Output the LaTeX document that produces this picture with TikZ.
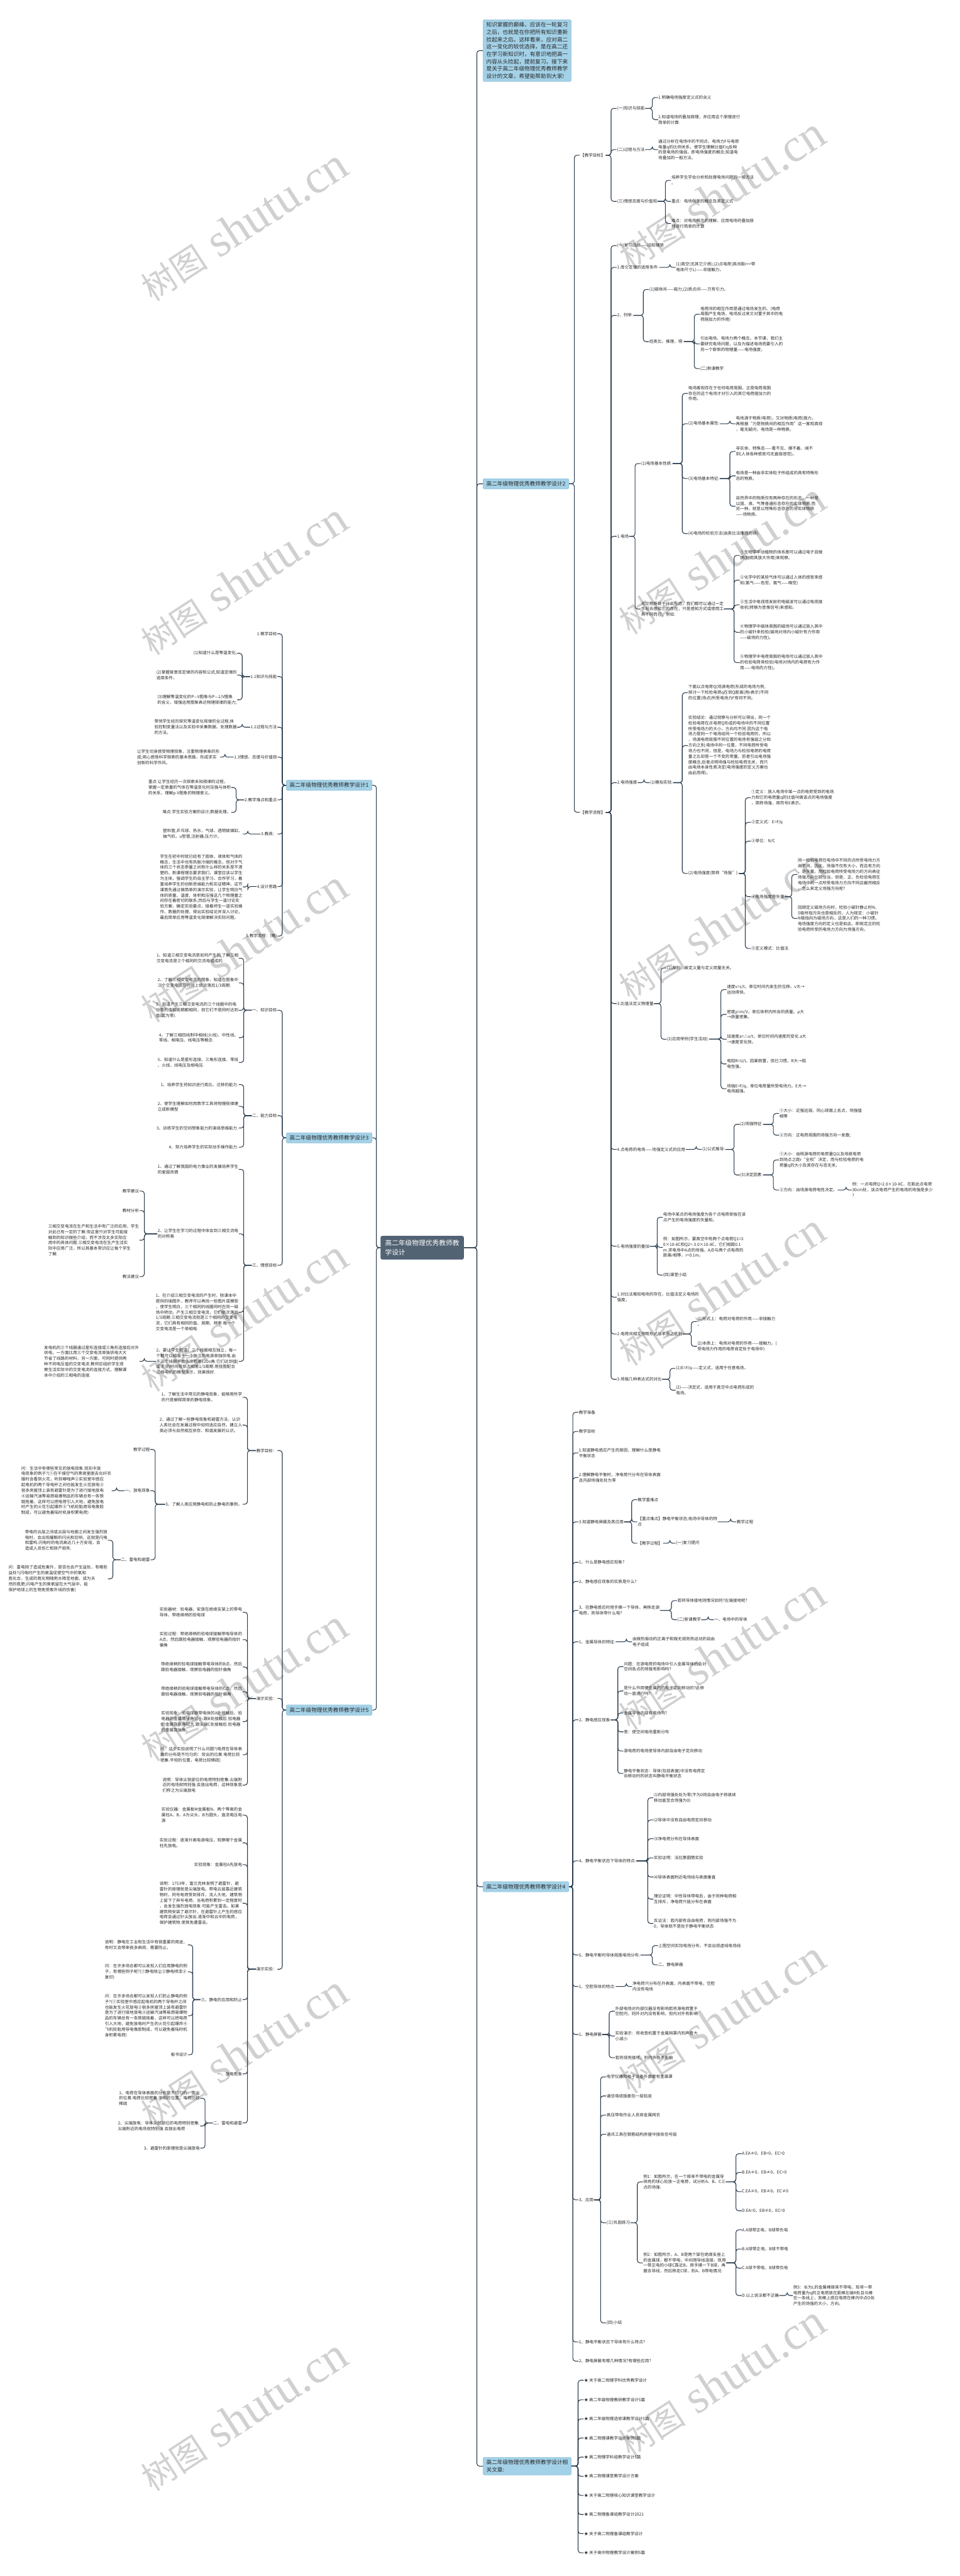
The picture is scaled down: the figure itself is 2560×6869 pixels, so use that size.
\documentclass[tikz,border=0pt]{standalone}
\usepackage{fontspec}
\newfontfamily\cjk{Noto Sans CJK SC}
\newfontfamily\wmlat{Liberation Serif}
\usetikzlibrary{calc}
\definecolor{linec}{RGB}{44,62,80}
\definecolor{txtc}{RGB}{40,40,40}
\definecolor{bfill}{RGB}{163,209,231}
\definecolor{bdraw}{RGB}{140,190,215}
\definecolor{rootc}{RGB}{82,99,116}
\definecolor{wmc}{RGB}{208,208,208}
\tikzset{
 txR/.style={font=\cjk\fontsize{11}{14.8}\selectfont, text=txtc, inner sep=1pt, align=left, anchor=west},
 txL/.style={font=\cjk\fontsize{11}{14.8}\selectfont, text=txtc, inner sep=1pt, align=left, anchor=east},
 bnode/.style={fill=bfill, draw=bdraw, line width=0.8pt, rounded corners=4pt, font=\cjk\fontsize{14.5}{19.6}\selectfont, text=txtc, inner xsep=9pt, inner ysep=7pt, align=left},
 rootn/.style={fill=rootc, draw=rootc, rounded corners=5pt, font=\cjk\fontsize{18}{24}\selectfont, text=white, inner xsep=12pt, inner ysep=11pt, align=left, anchor=west},
 conn/.style={draw=linec, line width=1.8pt, rounded corners=7pt},
 wm/.style={text=wmc, font=\wmlat\fontsize{125}{125}\selectfont, rotate=33, inner sep=0pt}
}
\newcommand\cR[3][15]{\draw[conn] (#2.east) -| ($(#3.west)+(-#1,0)$) -- (#3.west);}
\newcommand\cL[3][13]{\draw[conn] (#2.west) -| ($(#3.east)+(#1,0)$) -- (#3.east);}
\newcommand\wmark[2]{\node[wm] at (#1,#2) {{\cjk\fontsize{90}{90}\selectfont 树图} shutu.cn};}
\begin{document}
\begin{tikzpicture}[x=1pt,y=-1pt]
\useasboundingbox (0,0) rectangle (2560,6869);
\fill[white] (0,0) rectangle (2560,6869);
% watermarks
\foreach \yy in {517,1490,2465,3440,4410,5380,6350} {\wmark{1925}{\yy}}
\foreach \yy in {600,1545,2524,3509,4495,5470,6440} {\wmark{650}{\yy}}
% root
\node[rootn] (R) at (1015,3327) {高二年级物理优秀教师教\\学设计};
% ===== right main nodes
\node[bnode,anchor=west] (IN) at (1288,135) {知识掌握的巅峰，应该在一轮复习\\之后，也就是在你把所有知识重新\\捡起来之后。这样看来，应对高二\\这一变化的较优选择，是在高二还\\在学习新知识时，有意识地把高一\\内容从头捡起，提前复习。接下来\\是关于高二年级物理优秀教师教学\\设计的文章，希望能帮助到大家!};
\node[bnode,anchor=west] (B2) at (1288,1290) {高二年级物理优秀教师教学设计2};
\node[bnode,anchor=west] (B4) at (1288,5031) {高二年级物理优秀教师教学设计4};
\node[bnode,anchor=west] (B6) at (1288,6576) {高二年级物理优秀教师教学设计相\\关文章:};
\node[bnode,anchor=east] (B1) at (993,2094) {高二年级物理优秀教师教学设计1};
\node[bnode,anchor=east] (B3) at (993,3034) {高二年级物理优秀教师教学设计3};
\node[bnode,anchor=east] (B5) at (993,4560) {高二年级物理优秀教师教学设计5};
\cR[16]{R}{IN}\cR[16]{R}{B2}\cR[16]{R}{B4}\cR[16]{R}{B6}
\cL[11]{R}{B1}\cL[11]{R}{B3}\cL[11]{R}{B5}
% ===== Branch 2
\node[txR] (a1) at (1547,414) {【教学目标】};
\node[txR] (a2) at (1547,2166) {【教学流程】};
\cR{B2}{a1}\cR{B2}{a2}
\node[txR] (b1) at (1645,289) {(一)知识与技能};
\node[txR] (b2) at (1645,399) {(二)过程与方法};
\node[txR] (b3) at (1645,537) {(三)情感态度与价值观};
\cR{a1}{b1}\cR{a1}{b2}\cR{a1}{b3}
\node[txR] (c1) at (1755,260) {1.明确电场强度定义式的含义};
\node[txR] (c2) at (1755,319) {2.知道电场的叠加原理，并应用这个原理进行\\简单的计算.};
\cR{b1}{c1}\cR{b1}{c2}
\node[txR] (c3) at (1755,399) {通过分析在电场中的不同点，电场力F与电荷\\电量q的比例关系，使学生理解比值F/q反映\\的是电场的强弱，即电场强度的概念;知道电\\场叠加的一般方法。};
\cR{b2}{c3}
\node[txR] (c4) at (1790,481) {培养学生学会分析和处理电场问题的一般方法\\。};
\node[txR] (c5) at (1790,537) {重点：电场强度的概念及其定义式};
\node[txR] (c6) at (1790,596) {难点：对电场概念的理解、应用电场的叠加原\\理进行简单的计算};
\cR{b3}{c4}\cR{b3}{c5}\cR{b3}{c6}
\node[txR] (d1) at (1645,655) {(一)复习回顾——旧知铺垫};
\node[txR] (d2) at (1645,713) {1.库仑定律的适用条件:};
\node[txR] (d3) at (1645,841) {2、列举:};
\node[txR] (d4) at (1645,1430) {1.电场};
\node[txR] (d5) at (1645,2087) {2.电场强度};
\node[txR] (d6) at (1645,2676) {3.比值法定义物理量};
\node[txR] (d7) at (1645,3065) {4.点电荷的电场——场强定义式的应用};
\node[txR] (d8) at (1645,3323) {5.电场强度的叠加};
\node[txR] (d9) at (1645,3459) {1.对比法推知电场的存在，比值法定义电场的\\强度。};
\node[txR] (d10) at (1645,3557) {2.电荷间相互作用形式与本质之区别};
\node[txR] (d11) at (1645,3678) {3.场强几种表达式的对比};
\foreach \c in {d1,d2,d3,d4,d5,d6,d7,d8,d9,d10,d11} {\cR{a2}{\c}}
\node[txR] (e1) at (1802,713) {(1)真空(无其它介质);(2)点电荷(其间距r>>带\\电体尺寸L)——非接触力。};
\cR{d2}{e1}
\node[txR] (e2) at (1731,772) {(1)磁体间——磁力;(2)质点间——万有引力。};
\node[txR] (e3) at (1731,911) {经类比、推理，得:};
\cR{d3}{e2}\cR{d3}{e3}
\node[txR] (e4) at (1867,838) {电荷间的相互作用是通过电场发生的。(电荷\\周围产生电场，电场反过来又对置于其中的电\\荷施加力的作用)};
\node[txR] (e5) at (1867,917) {引出电场、电场力两个概念。本节课，我们主\\要研究电场问题，以及为描述电场而要引入的\\另一个崭新的物理量——电场强度。};
\node[txR] (e6) at (1867,983) {(二)新课教学};
\cR{e3}{e4}\cR{e3}{e5}\cR{e3}{e6}
\node[txR] (f1) at (1709,1236) {(1)电场基本性质:};
\node[txR] (f2) at (1709,1624) {无论物质处于什么形态，我们都可以通过一定\\手段去感知它的存在，只是感知方式或使用工\\具不同而已，例如:};
\cR{d4}{f1}\cR{d4}{f2}
\node[txR] (g1) at (1835,1049) {电场客观存在于任何电荷周围，正是电荷周围\\存在的这个电场才对引入的其它电荷施加力的\\作用。};
\node[txR] (g2) at (1835,1130) {(2)电场基本属性:};
\node[txR] (g3) at (1835,1276) {(3)电场基本特征:};
\node[txR] (g4) at (1835,1423) {(4)电场的检验方法(由类比法推理而得):};
\cR{f1}{g1}\cR{f1}{g2}\cR{f1}{g3}\cR{f1}{g4}
\node[txR] (h1) at (1962,1130) {电场源于物质(电荷)，又对物质(电荷)施力。\\再根据“力是物质间的相互作用”这一客观真观\\，毫无疑问，电场是一种物质。};
\cR{g2}{h1}
\node[txR] (h2) at (1962,1204) {非实体、特殊态——看不见、摸不着、闻不\\到(人体各种感官均无直接感觉)。};
\node[txR] (h3) at (1962,1269) {电场是一种由非实体粒子所组成的具有特殊形\\态的物质。};
\node[txR] (h4) at (1962,1350) {自然界中的物质仅有两种存在的形态，一种是\\以固、液、气等普通形态存在的实体物质;而\\另一种，就是以特殊形态存在的非实体物质\\——场物质。};
\cR{g3}{h2}\cR{g3}{h3}\cR{g3}{h4}
\node[txR] (i1) at (1973,1481) {①生物学中动植物的体系胞可以通过电子显微\\镜(利用其放大作用)来观察。};
\node[txR] (i2) at (1973,1547) {②化学中的某些气体可以通过人体的感官来感\\知(氯气——色觉，氨气——嗅觉)};
\node[txR] (i3) at (1973,1613) {③生活中电视塔发射的电磁波可以通过电视接\\收机(转换为音像信号)来感知。};
\node[txR] (i4) at (1973,1686) {④物理学中磁体周围的磁场可以通过放入其中\\的小磁针来检验(磁场对场内小磁针有力作用\\——磁场的力性)。};
\node[txR] (i5) at (1973,1767) {⑤物理学中电荷周围的电场可以通过放入其中\\的检验电荷来检验(电场对场内的电荷有力作\\用——电场的力性)。};
\foreach \c in {i1,i2,i3,i4,i5} {\cR{f2}{\c}}
\node[txR] (j1) at (1733,2087) {(1)模拟实验:};
\cR{d5}{j1}
\node[txR] (k1) at (1835,1847) {下面以点电荷Q(场源电荷)形成的电场为例,\\探讨一下检验电荷q在到Q距离(用r表示)不同\\的位置(场点)所受电场力F有何不同。};
\node[txR] (k2) at (1835,1988) {实验结论：通过观察与分析可以得出，同一个\\检验电荷在点电荷Q形成的电场中的不同位置\\所受电场力的大小、方向均不同.因为这个电\\场力是同一个电场给同一个检验电荷的，所以\\，场源电荷周围不同位置的电场有强弱之分和\\方向之别;电场中同一位置，不同电荷所受电\\场力也不同，但是，电场力与检验电荷的电荷\\量之比却是一个不变的常量。前者引出电场强\\度概念;后者点明场强与检验电荷无关，而只\\由电场本身性质决定(电场强度的定义方案也\\由此而得)。};
\node[txR] (k3) at (1835,2329) {(2)电场强度(简称“场强”):};
\cR{j1}{k1}\cR{j1}{k2}\cR{j1}{k3}
\node[txR] (l1) at (2003,2127) {①定义：放入电场中某一点的电荷受到的电场\\力和它的电荷量q的比值叫做该点的电场强度\\，简称场强，用符号E表示。};
\node[txR] (l2) at (2003,2193) {②定义式：E=F/q};
\node[txR] (l3) at (2003,2243) {③单位：N/C};
\node[txR] (l4) at (2003,2391) {④电场强度是矢量};
\node[txR] (l5) at (2003,2529) {⑤定义模式：比值法};
\foreach \c in {l1,l2,l3,l4,l5} {\cR{k3}{\c}}
\node[txR] (m1) at (2127,2332) {同一检验电荷在电场中不同的点所受电场力方\\向不同，因此，场强不仅有大小，而且有方向\\，是矢量。用检验电荷所受电场力的方向表征\\场强方向比较恰当，但是，正、负检验电荷在\\电场中同一点所受电场力方向不同且截然相反\\，怎么来定义场强方向呢?};
\node[txR] (m2) at (2127,2449) {回顾定义磁场方向时，检验小磁针静止时N、\\S极所指方向也是相反的，人为规定：小磁针\\N极指向为磁场方向，这是人们的一种习惯。\\电场强度方向的定义也是如此。即规定正的检\\验电荷所受的电场力方向为场强方向。};
\cR{l4}{m1}\cR{l4}{m2}
\node[txR] (n1) at (1778,2581) {(1)原则：被定义量与定义用量无关。};
\node[txR] (n2) at (1778,2771) {(2)应用举例(学生活动):};
\cR{d6}{n1}\cR{d6}{n2}
\node[txR] (o1) at (1938,2639) {速度v=s/t。单位时间内发生的位移。v大→\\运动得快。};
\node[txR] (o2) at (1938,2705) {密度ρ=m/V。单位体积内所含的质量。ρ大\\→质量密集。};
\node[txR] (o3) at (1938,2771) {加速度a=△v/t。单位时间内速度的变化.a大\\→速度变化快。};
\node[txR] (o4) at (1938,2837) {电阻R=U/I。因果倒置，但已习惯。R大→阻\\电性强。};
\node[txR] (o5) at (1938,2903) {场强E=F/q。单位电荷量所受电场力。E大→\\电场越强。};
\foreach \c in {o1,o2,o3,o4,o5} {\cR{n2}{\c}}
\node[txR] (p1) at (1872,3065) {(1)公式推导:};
\cR{d7}{p1}
\node[txR] (q1) at (1973,2998) {(2)场强特征:};
\node[txR] (q2) at (1973,3133) {(3)决定因素:};
\cR{p1}{q1}\cR{p1}{q2}
\node[txR] (r1) at (2078,2969) {①大小：近强远弱，同心球面上名点，场强值\\相等};
\node[txR] (r2) at (2078,3027) {②方向：正电荷周围的场强方向一发散;};
\cR{q1}{r1}\cR{q1}{r2}
\node[txR] (r3) at (2078,3093) {①大小：由杨源电荷的电荷量Q以及场原电荷\\到场点之距r“全权”决定，而与检验电荷的电\\荷量q的大小及其存在与否无关，};
\node[txR] (r4) at (2078,3173) {②方向：由场源电荷电性决定。};
\cR{q2}{r3}\cR{q2}{r4}
\node[txR] (s1) at (2272,3173) {例：一点电荷Q=2.0×10-8C，在距此点电荷\\30cm处，该点电荷产生的电场的场强是多少\\?};
\cR{r4}{s1}
\node[txR] (t1) at (1768,3246) {电场中某点的电场强度为各个点电荷单独在该\\点产生的电场强度的矢量和。};
\node[txR] (t2) at (1768,3326) {例：如图所示，要真空中有两个点电荷Q1=3.\\0×10-8C和Q2=-3.0×10-8C，它们相距0.1\\m.求电场中A点的场强。A点与两个点电荷的\\距离r相等，r=0.1m。};
\node[txR] (t3) at (1768,3400) {(四)课堂小结};
\cR{d8}{t1}\cR{d8}{t2}\cR{d8}{t3}
\node[txR] (u1) at (1859,3524) {(1)形式上：电荷对电荷的作用——非接触力\\。};
\node[txR] (u2) at (1859,3590) {(2)本质上：电场对电荷的作用——接触力。(\\受电场力作用的电荷肯定处于电场中)};
\cR{d10}{u1}\cR{d10}{u2}
\node[txR] (v1) at (1802,3649) {(1)E=F/q——定义式，适用于任意电场。};
\node[txR] (v2) at (1802,3707) {(2)——决定式，适用于真空中点电荷形成的\\电场。};
\cR{d11}{v1}\cR{d11}{v2}
% ===== Branch 4
\node[txR] (w1) at (1543,3766) {教学准备};
\node[txR] (w2) at (1543,3817) {教学目标};
\node[txR] (w3) at (1543,3874) {1.知道静电感应产生的原因，理解什么是静电\\平衡状态};
\node[txR] (w4) at (1543,3940) {2.理解静电平衡时，净电荷只分布在导体表面\\且内部场强处处为零};
\node[txR] (w5) at (1543,4058) {3.知道静电屏蔽及其应用};
\node[txR] (w6) at (1543,4166) {1、什么是静电感应现象?};
\node[txR] (w7) at (1543,4217) {2、静电感应现象的实质是什么?};
\node[txR] (w8) at (1543,4294) {3、在静电感应时用手摸一下导体，再移走源\\电荷，则导体带什么电?};
\node[txR] (w9) at (1543,4378) {1、金属导体的特征:};
\node[txR] (w10) at (1543,4586) {2、静电感应现象};
\node[txR] (w11) at (1543,4962) {4、静电平衡状态下导体的特点:};
\node[txR] (w12) at (1543,5213) {5、静电平衡时导体周围电场分布:};
\node[txR] (w13) at (1543,5297) {1、空腔导体的特点:};
\node[txR] (w14) at (1543,5425) {1、静电屏蔽};
\node[txR] (w15) at (1543,5866) {3、应用};
\node[txR] (w16) at (1543,6245) {1、静电平衡状态下导体有什么特点?};
\node[txR] (w17) at (1543,6296) {2、静电屏蔽有哪几种情况?有哪些应用?};
\foreach \c in {w1,w2,w3,w4,w5,w6,w7,w8,w9,w10,w11,w12,w13,w14,w15,w16,w17} {\cR{B4}{\c}}
\node[txR] (x1) at (1700,3999) {教学重难点};
\node[txR] (x2) at (1700,4058) {【重点难点】静电平衡状态;电场中导体的特\\点};
\node[txR] (x3) at (1700,4115) {【教学过程】};
\cR{w5}{x1}\cR{w5}{x2}\cR{w5}{x3}
\node[txR] (y1) at (1964,4058) {教学过程};
\cR{x2}{y1}
\node[txR] (y2) at (1802,4115) {(一)复习提问};
\cR{x3}{y2}
\node[txR] (z1) at (1806,4268) {若将导体接地则情况如何?左端接地呢?};
\node[txR] (z2) at (1806,4319) {(二)新课教学};
\cR{w8}{z1}\cR{w8}{z2}
\node[txR] (z3) at (1904,4319) {一、电场中的导体};
\cR{z2}{z3}
\node[txR] (z4) at (1686,4378) {由做热振动的正离子和做无规则热运动的自由\\电子组成};
\cR{w9}{z4}
\node[txR] (aa1) at (1663,4444) {问题：在源电荷的电场中引入金属导体后会对\\空间各点的场强有影响吗?};
\node[txR] (aa2) at (1663,4509) {是什么作用使金属内的电子定向移动的?此移\\动一直进行吗?};
\node[txR] (aa3) at (1663,4568) {金属导体内部有电场吗?};
\node[txR] (aa4) at (1663,4618) {答：使空间电场重新分布};
\node[txR] (aa5) at (1663,4669) {源电荷的电场使导体内部自由电子定向移动};
\node[txR] (aa6) at (1663,4729) {静电平衡状态：导体(包括表面)中没有电荷定\\向移动时的状态叫静电平衡状态};
\foreach \c in {aa1,aa2,aa3,aa4,aa5,aa6} {\cR{w10}{\c}}
\node[txR] (ab1) at (1743,4794) {⑴内部场强处处为零(不为0则自由电子将继续\\移动直至合场强为0)};
\node[txR] (ab2) at (1743,4853) {⑵导体中没有自由电荷定向移动};
\node[txR] (ab3) at (1743,4903) {⑶净电荷分布在导体表面};
\node[txR] (ab4) at (1743,4954) {实验证明：法拉第圆筒实验};
\node[txR] (ab5) at (1743,5005) {⑷导体表面附近电场线与表面垂直};
\node[txR] (ab6) at (1743,5064) {理论证明：中性导体带电后，由于同种电荷相\\互排斥，净电荷只能分布在表面};
\node[txR] (ab7) at (1743,5129) {反证法：若内部有自由电荷，则内部场强不为\\0，导体就不是处于静电平衡状态};
\foreach \c in {ab1,ab2,ab3,ab4,ab5,ab6,ab7} {\cR{w11}{\c}}
\node[txR] (ac1) at (1755,5188) {上图空间实际电场分布，不会出现虚线电场线};
\node[txR] (ac2) at (1755,5239) {二、静电屏蔽};
\cR{w12}{ac1}\cR{w12}{ac2}
\node[txR] (ad1) at (1686,5297) {净电荷只分布在外表面，内表面不带电，空腔\\内没有电场};
\cR{w13}{ad1}
\node[txR] (ae1) at (1640,5363) {外部电场对内部仪器没有影响若将源电荷置于\\空腔内，则外对内没有影响，但内对外有影响};
\node[txR] (ae2) at (1640,5429) {实验演示：将收音机置于金属网罩内则声音大\\小减小};
\node[txR] (ae3) at (1640,5487) {若将球壳接地，则内外各不影响};
\cR{w14}{ae1}\cR{w14}{ae2}\cR{w14}{ae3}
\node[txR] (af1) at (1617,5538) {电学仪器和电子设备外面套有金属罩};
\node[txR] (af2) at (1617,5589) {通信电缆版面包一层铅皮};
\node[txR] (af3) at (1617,5640) {高压带电作业人员穿金属网衣};
\node[txR] (af4) at (1617,5691) {通讯工具在钢筋结构房屋中接收信号弱};
\node[txR] (af5) at (1617,5927) {(三)巩固练习};
\node[txR] (af6) at (1617,6194) {(四)小结};
\foreach \c in {af1,af2,af3,af4,af5,af6} {\cR{w15}{\c}}
\node[txR] (ag1) at (1715,5818) {例1：如图所示，在一个原来不带电的金属导\\体壳的球心处放一正电荷，试分析A、B、C三\\点的场强:};
\node[txR] (ag2) at (1715,6034) {例2：如图所示，A、B是两个架在绝缘支座上\\的金属球，都不带电，中间用导线连接，现用\\一带正电的小球C靠近B，用手摸一下B球，再\\撤去导线，然后移走C球，则A、B带电情况:};
\cR{af5}{ag1}\cR{af5}{ag2}
\node[txR] (ah1) at (1978,5743) {A.EA≠0，EB=0，EC=0};
\node[txR] (ah2) at (1978,5793) {B.EA≠0，EB≠0，EC=0};
\node[txR] (ah3) at (1978,5844) {C.EA≠0，EB≠0，EC≠0};
\node[txR] (ah4) at (1978,5895) {D.EA=0，EB≠0，EC=0};
\foreach \c in {ah1,ah2,ah3,ah4} {\cR{ag1}{\c}}
\node[txR] (ai1) at (1978,5946) {A.A球带正电，B球带负电};
\node[txR] (ai2) at (1978,5997) {B.A球带正电，B球不带电};
\node[txR] (ai3) at (1978,6048) {C.A球不带电，B球带负电};
\node[txR] (ai4) at (1978,6121) {D.以上说法都不正确};
\foreach \c in {ai1,ai2,ai3,ai4} {\cR{ag2}{\c}}
\node[txR] (aj1) at (2115,6121) {例3：长为L的金属棒原来不带电，现将一带\\电荷量为q的正电荷放在距棒左端R处且与棒\\在一条线上，则棒上感应电荷在棒内中点O处\\产生的场强的大小，方向。};
\cR{ai4}{aj1}
% ===== Branch 6
\node[txR] (k01) at (1557,6347) {★ 关于高二物理学科优秀教学设计};
\node[txR] (k02) at (1557,6399) {★ 高二年级物理教研教学设计5篇};
\node[txR] (k03) at (1557,6450) {★ 高二年级物理选修课教学设计5篇};
\node[txR] (k04) at (1557,6501) {★ 高二物理课教学设计案例5篇};
\node[txR] (k05) at (1557,6552) {★ 高二物理学科组教学设计5篇};
\node[txR] (k06) at (1557,6603) {★ 高二物理课堂教学设计方案};
\node[txR] (k07) at (1557,6654) {★ 关于高二物理核心知识课堂教学设计};
\node[txR] (k08) at (1557,6705) {★ 高二物理备课组教学设计2021};
\node[txR] (k09) at (1557,6756) {★ 关于高二物理备课组教学设计};
\node[txR] (k10) at (1557,6807) {★ 关于高中物理教学设计案例5篇};
\foreach \c in {k01,k02,k03,k04,k05,k06,k07,k08,k09,k10} {\cR{B6}{\c}}
% ===== Branch 1 (left)
\node[txL] (L1) at (740,1690) {1.教学目标};
\node[txL] (L2) at (740,1804) {1.1知识与技能};
\node[txL] (L3) at (740,1939) {1.2过程与方法};
\node[txL] (L4) at (740,2019) {1.3情感、态度与价值观};
\node[txL] (L5) at (740,2133) {2.教学难点和重点};
\node[txL] (L6) at (740,2224) {3.教具：};
\node[txL] (L7) at (740,2364) {4.设计思路};
\node[txL] (L8) at (740,2496) {5.教学流程：(略)};
\foreach \c in {L1,L2,L3,L4,L5,L6,L7,L8} {\cL{B1}{\c}}
\node[txL] (L2a) at (633,1742) {(1)知道什么是等温变化;};
\node[txL] (L2b) at (633,1800) {(2)掌握玻意耳定律的内容和公式;知道定律的\\适用条件。};
\node[txL] (L2c) at (633,1866) {(3)理解等温变化的P—V图象与P—1/V图象\\的含义，增强运用图象表达物理规律的能力;};
\cL{L2}{L2a}\cL{L2}{L2b}\cL{L2}{L2c}
\node[txL] (L3a) at (633,1939) {带领学生经历探究等温变化规律的全过程,体\\验控制变量法以及实验中采集数据、处理数据\\的方法。};
\cL{L3}{L3a}
\node[txL] (L4a) at (587,2019) {让学生切身感受物理现象，注重物理表象的形\\成;用心感悟科学探索的基本思路，形成求实\\创新的科学作风。};
\cL{L4}{L4a}
\node[txL] (L5a) at (617,2100) {重点:让学生经历一次探索未知规律的过程，\\掌握一定质量的气体在等温变化时压强与体积\\的关系，理解p-V图象的物理意义。};
\node[txL] (L5b) at (617,2166) {难点:学生实验方案的设计;数据处理。};
\cL{L5}{L5a}\cL{L5}{L5b}
\node[txL] (L6a) at (648,2224) {塑料管,乒乓球、热水，气球、透明玻璃缸、\\抽气机，u型管,注射器,压力计。};
\cL{L6}{L6a}
\node[txL] (L7a) at (648,2365) {学生在初中时就已经有了固体、液体和气体的\\概念，生活中也有热胀冷缩的概念，但对于气\\体的三个状态参量之间有什么样的关系是不清\\楚的。新课程理念要求我们，课堂应该以学生\\为主体，强调学生的自主学习、合作学习，着\\重培养学生的创新思维能力和实证精神。这节\\课首先通过做简单的演示实验，让学生明白气\\体的质量、温度、体积和压强这几个物理量之\\间存在着密切的联系;然后与学生一道讨论实\\验方案，确定实验要点，接着师生一道实验操\\作，数据的处理，得出实验结论并深入讨论，\\最后简单应用等温变化规律解决实际问题。};
\cL{L7}{L7a}
% ===== Branch 3 (left)
\node[txL] (M1) at (740,2694) {一、知识目标};
\node[txL] (M2) at (740,2975) {二、能力目标};
\node[txL] (M3) at (740,3374) {三、情感目标};
\cL{B3}{M1}\cL{B3}{M2}\cL{B3}{M3}
\node[txL] (M1a) at (637,2555) {1、知道三相交变电流是如何产生的.了解三相\\交变电流是三个相同的交流电组成的.};
\node[txL] (M1b) at (637,2621) {2、了解三相交变电流的图象，知道在图象中\\三个交变电流在时间上依次落后1/3周期.};
\node[txL] (M1c) at (637,2694) {3、知道产生三相交变电流的三个线圈中的电\\动势的值和周期都相同，但它们不是同时达到\\值(或为零).};
\node[txL] (M1d) at (637,2767) {4、了解三相四线制中相线(火线)、中性线、\\零线、相电压、线电压等概念.};
\node[txL] (M1e) at (637,2833) {5、知道什么是星形连接、三角形连接、零线\\、火线、线电压及相电压.};
\foreach \c in {M1a,M1b,M1c,M1d,M1e} {\cL{M1}{\c}}
\node[txL] (M2a) at (637,2892) {1、培养学生将知识进行类比、迁移的能力.};
\node[txL] (M2b) at (637,2950) {2、使学生理解如何用数学工具将物理规律建\\立成新模型};
\node[txL] (M2c) at (637,3008) {3、训练学生的空间想象能力的演绎思维能力.};
\node[txL] (M2d) at (637,3059) {4、努力培养学生的实际动手操作能力.};
\foreach \c in {M2a,M2b,M2c,M2d} {\cL{M2}{\c}}
\node[txL] (M3a) at (637,3118) {1、通过了解我国的电力事业的发展培养学生\\的爱国热情};
\node[txL] (M3b) at (637,3290) {2、让学生在学习的过程中体会到三相交流电\\的对称美};
\node[txL] (M3c) at (637,3499) {1、在介绍三相交变电流的产生时，除课本中\\提供的插图外，教师可以再找一些图片或模型\\，使学生明白，三个相同的线圈同时在同一磁\\场中转动，产生三相交变电流，它们依次落后\\1/3周期.三相交变电流就是三个相同的交变电\\流，它们具有相同的值、周期、频率.每一个\\交变电流是一个单相电.};
\node[txL] (M3d) at (637,3630) {2、要让学生知道，三个线圈相互独立，每一\\个都可以相当于一个独立的电源单独供电.由\\于三个线圈平面依次相差120o角.它们达到值(\\或零)的时间就依次相差1/3周期.用挂图配合\\三相电机的模型演示，效果很好.};
\foreach \c in {M3a,M3b,M3c,M3d} {\cL{M3}{\c}}
\node[txL] (M3b1) at (372,3176) {教学建议};
\node[txL] (M3b2) at (372,3228) {教材分析};
\node[txL] (M3b3) at (372,3307) {三相交变电流在生产和生活中有广泛的应用，学生\\对此已有一定的了解.但这里只对学生可能接\\触到的知识做些介绍，而不涉及太多实际应\\用中的具体问题.三相交变电流在生产生活实\\际中应用广泛，所以其基本常识应让每个学生\\了解.};
\node[txL] (M3b4) at (372,3404) {教法建议};
\foreach \c in {M3b1,M3b2,M3b3,M3b4} {\cL{M3b}{\c}}
\node[txL] (M3e) at (372,3630) {发电机的三个线圈通过星形连接或三角形连接后对外\\供电，一方面比用三个交变电流单独供电大大\\节省了线路的材料，另一方面，可同时提供两\\种不同电压值的交变电流.教师应组织学生观\\察生活实际中的交变电流的连接方式，理解课\\本中介绍的三相电的连接.};
\cL{M3d}{M3e}
% ===== Branch 5 (left)
\node[txL] (N1) at (740,3868) {教学目标：};
\node[txL] (N2) at (740,4529) {演示实验：};
\node[txL] (N3) at (740,5251) {演示实验：};
\cL{B5}{N1}\cL{B5}{N2}\cL{B5}{N3}
\node[txL] (N1a) at (647,3726) {1、了解生活中常见的静电现象，能够用所学\\的只是解释简单的静电现象。};
\node[txL] (N1b) at (647,3800) {2、通过了解一些静电现象和避雷方法，认识\\人类社会在发展过程中如何适应自然，建立人\\类必须与自然相互依存、和谐发展的认识。};
\node[txL] (N1c) at (647,4011) {3、了解人类应用静电和防止静电的事例。};
\cL{N1}{N1a}\cL{N1}{N1b}\cL{N1}{N1c}
\node[txL] (N1c1) at (401,3865) {教学过程};
\node[txL] (N1c2) at (401,3975) {一、放电现象};
\node[txL] (N1c3) at (401,4159) {二、雷电和避雷};
\cL{N1c}{N1c1}\cL{N1c}{N1c2}\cL{N1c}{N1c3}
\node[txL] (N1c2a) at (298,3975) {问：生活中有哪些常见的放电现象.现实中放\\电现象的例子?(①在干燥空气的黑夜里脱去化纤衣\\服时会看到火花，听到噼啪声②实验室中感应\\起电机的两个导电杆之间也能发生火花放电③\\很多房屋顶上装有避雷针是为了进行接地放电\\④运输汽油等易燃易爆物品的车辆总有一条铁\\链拖着，这样可以把电荷引入大地，避免放电\\时产生的火花引起爆炸⑤飞机轮胎用导电像胶\\制成，可以避免着陆时机身积累电荷)};
\cL{N1c2}{N1c2a}
\node[txL] (N1c3a) at (288,4107) {带电的云层之间或云层与地面之间发生强烈放\\电时，会出现耀眼的闪光和巨响，这就是闪电\\和雷鸣.闪电时的电流高达几十万安培，会\\造成人员伤亡和财产损失.};
\node[txL] (N1c3b) at (288,4210) {问：雷电除了造成危害外，是否也会产生益处，有哪些\\益处?(闪电时产生的高温促使空气中的氧和\\氮化合，生成的氮化物随雨水降至地面，成为天\\然的氮肥;闪电产生的臭氧留在大气层中，能\\保护地球上的生物免受紫外线的伤害)};
\cL{N1c3}{N1c3a}\cL{N1c3}{N1c3b}
\node[txL] (N2a) at (647,4299) {实验器材：验电器、安放在绝缘支架上的带电\\导体、带绝缘柄的验电球};
\node[txL] (N2b) at (647,4372) {实验过程：带绝缘柄的验电球接触带电导体的\\A点，然后跟验电器接触，观察验电器的指针\\偏角};
\node[txL] (N2c) at (647,4445) {带绝缘柄的验电球接触带电导体的B点，然后\\跟验电器接触，观察验电器的指针偏角};
\node[txL] (N2d) at (647,4511) {带绝缘柄的验电球接触带电导体的C点，然后\\跟验电器接触，观察验电器的指针偏角};
\node[txL] (N2e) at (647,4591) {实验现象：验电球跟带电体的A处接触后，验\\电器的金属箔张角较小.跟B处接触后.验电器\\的金属箔张角较大.跟尖端C处接触后.验电器\\的金属箔张角。};
\node[txL] (N2f) at (647,4679) {问：这个实验说明了什么问题?(电荷在导体表\\面的分布是不均匀的：突出的位黄.电荷比较\\密集.平坦的位置，电荷比较稀疏)};
\node[txL] (N2g) at (647,4760) {说明：导体尖锐部位的电荷特别密集.尖端附\\近的电场就特别强.会放出电荷，这种现象我\\们称之为尖端放电};
\foreach \c in {N2a,N2b,N2c,N2d,N2e,N2f,N2g} {\cL{N2}{\c}}
\node[txL] (N3a) at (647,4840) {实验仪器：金属板M金属板N、两个等高的金\\属柱A、B，A为尖头、B为圆头，直流电压电\\源};
\node[txL] (N3b) at (647,4914) {实验过程：逐渐升高电源电压，观察哪个金属\\柱先放电。};
\node[txL] (N3c) at (647,4972) {实验现象：金属柱A先放电};
\node[txL] (N3d) at (647,5075) {说明：1753年，富兰克林发明了避雷针，避\\雷针的原理就是尖端放电。带电云层靠近建筑\\物时，同号电荷受到排斥，流人大地，建筑物\\上留下了异号电荷。当电荷积累到一定程度时\\，会发生强烈放电现象.可能产生雷击。如果\\建筑物安装了避示针，在避雷针上产生的感应\\电荷会通过针尖放出.逐渐中和云中的电荷，\\保护建筑物.使其免遭雷击。};
\node[txL] (N3e) at (647,5332) {三、静电的应用和防止};
\node[txL] (N3f) at (647,5530) {一、放电现象};
\node[txL] (N3g) at (647,5661) {二、雷电和避雷};
\foreach \c in {N3a,N3b,N3c,N3d,N3e,N3f,N3g} {\cL{N3}{\c}}
\node[txL] (N3e1) at (501,5186) {说明：静电在工业和生活中有很重要的用途，\\有时又会带来很多麻烦，需要防止。};
\node[txL] (N3e2) at (501,5258) {问：在许多场合都可以发现人们应用静电的例\\子，有哪些例子呢?(①静电除尘②静电喷漆③\\复印)};
\node[txL] (N3e3) at (501,5375) {问：在许多场合都可以发现人们防止静电的例\\子?(①实验室中感应起电机的两个导电杆之间\\也能发生火花放电②很多房屋顶上装有避雷针\\是为了进行接地放电③运输汽油等易燃易爆物\\品的车辆总有一条铁链拖着，这样可以把电荷\\引入大地，避免放电时产生的火花引起爆炸④\\飞机轮胎用导电像胶制成，可以避免着陆时机\\身积累电荷)};
\node[txL] (N3e4) at (501,5479) {板书设计};
\foreach \c in {N3e1,N3e2,N3e3,N3e4} {\cL{N3e}{\c}}
\node[txL] (N3g1) at (534,5595) {1、电荷在导体表面的分布是不均匀的：突出\\的位黄.电荷比较密集.平坦的位置，电荷比较\\稀疏};
\node[txL] (N3g2) at (534,5669) {2、尖端放电：导体尖锐部位的电荷特别密集.\\尖端附近的电场就特别强.会放出电荷};
\node[txL] (N3g3) at (534,5728) {3、避雷针的原理就是尖端放电};
\foreach \c in {N3g1,N3g2,N3g3} {\cL{N3g}{\c}}
\end{tikzpicture}
\end{document}
